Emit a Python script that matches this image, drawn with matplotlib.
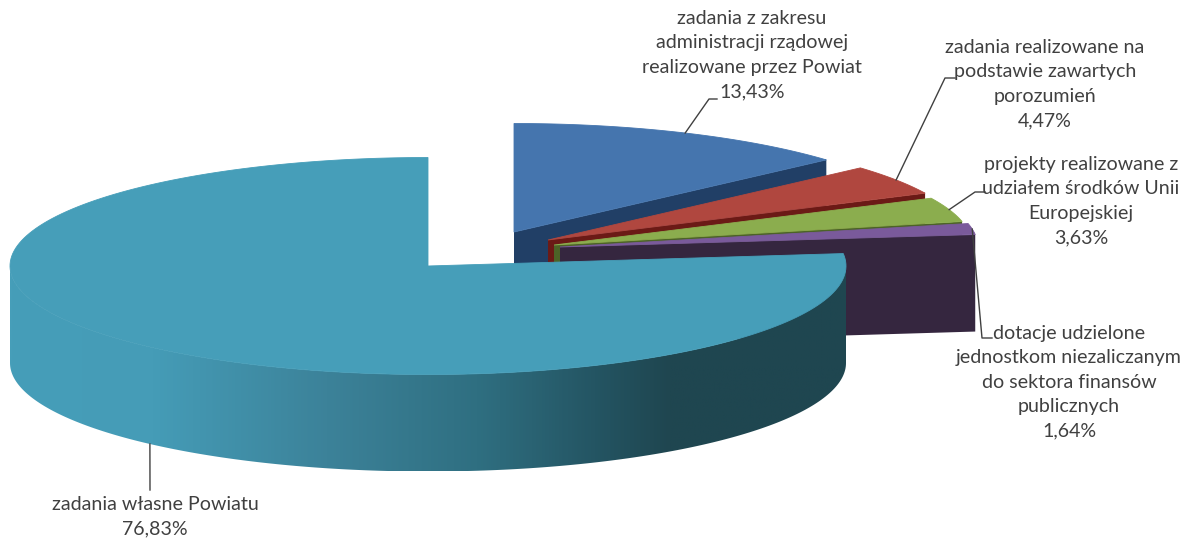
import numpy as np
import matplotlib
matplotlib.use("Agg")
import matplotlib.pyplot as plt
from matplotlib.colors import LinearSegmentedColormap
from matplotlib.patches import Polygon

names = ["zadania z zakresu\nadministracji rządowej\nrealizowane przez Powiat",
         "zadania realizowane na\npodstawie zawartych\nporozumień",
         "projekty realizowane z\nudziałem środków Unii\nEuropejskiej",
         "dotacje udzielone\njednostkom niezaliczanym\ndo sektora finansów\npublicznych",
         "zadania własne Powiatu"]
values = [13.43, 4.47, 3.63, 1.64, 76.83]

top_colors = ["#4575ae", "#b0473f", "#8bad4e", "#7a5a9b", "#469eb9"]
dark_colors = ["#213f66", "#6b1a16", "#4c6327", "#35263f", "#1f4650"]

# apex of each exploded slice, in pixels
apex_x = [514, 548, 554, 560, 428]
apex_y = [232, 240, 245, 247, 266]
rx = 418
ry = 108.5
depth = 97

# label centre and leader elbow, in pixels
label_x = [752, 1045, 1081, 1069, 155]
label_y = [55, 84, 201, 382, 517]
elbows = [[(709, 99), (717, 99)],
          [(945, 78), (955, 78)],
          [(975, 192), (985, 192)],
          [(982, 338), (992, 338)],
          [(150, 490)]]


def rim(i, t):
    t = np.radians(t)
    return apex_x[i] + rx * np.sin(t), apex_y[i] - ry * np.cos(t)


fig = plt.figure(figsize=(11.89, 5.39), dpi=100)
ax = fig.add_axes([0, 0, 1, 1])

shade = LinearSegmentedColormap.from_list(
    "shade", [(0.0, "#469eb9"), (0.17, "#459cb7"), (0.38, "#3c8299"),
              (0.56, "#2f6f81"), (0.70, "#245563"), (0.79, "#1f4650"), (1.0, "#1f4650")])

edges = np.concatenate([[0], np.cumsum(values)]) * 3.6
edges[-1] = 360

for i in range(len(values)):
    t0, t1 = edges[i], edges[i + 1]
    t = np.linspace(t0, t1, 200)
    x, y = rim(i, t)

    # side of the rim facing the viewer
    ts = np.linspace(max(t0, 90), min(t1, 270), 200)
    if ts[-1] > ts[0]:
        sx, sy = rim(i, ts)
        pts = np.column_stack([np.r_[sx, sx[::-1]], np.r_[sy, sy[::-1] + depth]])
        side = Polygon(pts, closed=True, fc="none", ec="none")
        ax.add_patch(side)
        im = ax.imshow(np.linspace(0, 1, 512)[None, :], cmap=shade, vmin=0, vmax=1,
                       extent=[sx.min(), sx.max(), sy.max() + depth, sy.min()],
                       aspect="auto", zorder=i + 1)
        im.set_clip_path(side)

    # cut face at the end of the slice
    if t1 < 360:
        ex, ey = rim(i, t1)
        face = [(apex_x[i], apex_y[i]), (ex, ey), (ex, ey + depth), (apex_x[i], apex_y[i] + depth)]
        ax.add_patch(Polygon(face, closed=True, fc=dark_colors[i], ec="none", zorder=i + 1))

    top = np.column_stack([np.r_[apex_x[i], x], np.r_[apex_y[i], y]])
    ax.add_patch(Polygon(top, closed=True, fc=top_colors[i], ec=top_colors[i], lw=0.6, zorder=i + 1.5))

for i in range(len(values)):
    mid = (edges[i] + edges[i + 1]) / 2
    mx, my = rim(i, mid)
    if 90 < mid < 270:
        my = my + depth
    lx = [mx] + [p[0] for p in elbows[i]]
    ly = [my] + [p[1] for p in elbows[i]]
    ax.plot(lx, ly, color="#404040", lw=1, zorder=10)
    txt = names[i] + "\n" + ("%.2f%%" % values[i]).replace(".", ",")
    ax.text(label_x[i], label_y[i], txt, ha="center", va="center", family="Lato",
            fontsize=14.1, color="#404040", linespacing=1.53, zorder=11)

ax.set_xlim(0, 1189)
ax.set_ylim(539, 0)
ax.axis("off")
fig.savefig("out.png", dpi=100)
